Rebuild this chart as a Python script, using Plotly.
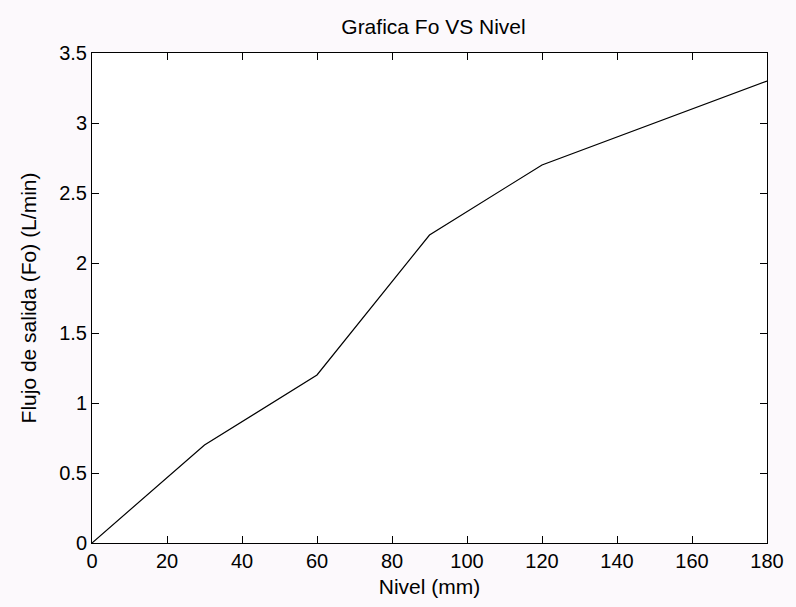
import plotly.graph_objects as go

nivel = [0, 30, 60, 90, 120, 150, 180]
flujo = [0, 0.7, 1.2, 2.2, 2.7, 3.0, 3.3]
x_ticks = [0, 20, 40, 60, 80, 100, 120, 140, 160, 180]
y_ticks = [0, 0.5, 1, 1.5, 2, 2.5, 3, 3.5]
y_tick_text = ["0", "0.5", "1", "1.5", "2", "2.5", "3", "3.5"]

W, H = 796, 607
FONT = "Liberation Sans Narrow, Liberation Sans, Arial"

fig = go.Figure()
fig.add_trace(go.Scatter(x=nivel, y=flujo, mode="lines",
                         line=dict(color="black", width=1.2), showlegend=False))

axis_common = dict(showgrid=False, zeroline=False, showline=True, linecolor="black",
                   linewidth=1, mirror="allticks", ticks="inside", ticklen=7,
                   tickcolor="black", tickwidth=1,
                   tickfont=dict(family=FONT, size=20, color="black"))

fig.update_layout(
    width=W, height=H,
    margin=dict(l=92, r=21, t=53, b=60),
    paper_bgcolor="#fcf9fc", plot_bgcolor="white",
    title=dict(text="Grafica Fo VS Nivel", x=(92 + 775) / 2 / W, xanchor="center",
               y=1 - 27 / H, yanchor="middle",
               font=dict(family=FONT, size=21, color="black")),
    xaxis=dict(range=[0, 180], tickvals=x_ticks, ticktext=[str(v) for v in x_ticks],
               title=dict(text="Nivel (mm)", font=dict(family=FONT, size=21, color="black"),
                          standoff=8),
               **axis_common),
    yaxis=dict(range=[0, 3.5], tickvals=y_ticks, ticktext=y_tick_text,
               title=dict(text="Flujo de salida (Fo) (L/min)",
                          font=dict(family=FONT, size=21, color="black"), standoff=16),
               **axis_common),
)

fig.write_html("out.html")
